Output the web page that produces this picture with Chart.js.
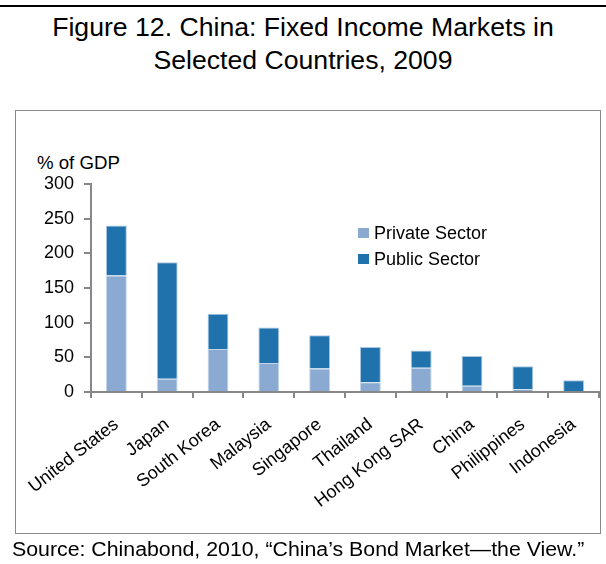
<!DOCTYPE html>
<html lang="en">

<head>
    <meta charset="UTF-8">
    <title>China: Fixed Income Markets in Selected Countries, 2009</title>
    <script src="https://cdn.jsdelivr.net/npm/chart.js"></script>
    <style>
        body {
            margin: 0;
            padding: 0;
            width: 606px;
            height: 564px;
            position: relative;
            background-color: #fff;
            font-family: "Liberation Sans", Arial, sans-serif;
            color: #000;
            overflow: hidden;
        }

        .rule {
            position: absolute;
            left: 0;
            top: 5px;
            width: 606px;
            height: 2px;
            background-color: #000;
        }

        /* the source figure is a little stretched sideways, hence scaleX */
        h1 {
            position: absolute;
            left: 0;
            top: 11px;
            width: 606px;
            margin: 0;
            font-size: 25px;
            font-weight: normal;
            line-height: 33px;
            text-align: center;
            transform: scaleX(1.065);
        }

        .frame {
            position: absolute;
            left: 15px;
            top: 110px;
            width: 584px;
            height: 422px;
            border: 1px solid #8a8a8a;
        }

        .unit {
            position: absolute;
            left: 37px;
            top: 155px;
            font-size: 17.5px;
            line-height: 17px;
            white-space: nowrap;
            transform: scaleX(1.065);
            transform-origin: left center;
        }

        .source {
            position: absolute;
            left: 12px;
            top: 539px;
            font-size: 20px;
            line-height: 20px;
            white-space: nowrap;
            transform: scaleX(1.065);
            transform-origin: left center;
        }

        canvas {
            position: absolute;
            left: 0;
            top: 0;
        }
    </style>
</head>

<body>
    <div class="rule"></div>
    <h1>Figure 12. China: Fixed Income Markets in<br>Selected Countries, 2009</h1>
    <div class="frame"></div>
    <div class="unit">% of GDP</div>
    <canvas id="bondChart" width="606" height="564"></canvas>
    <div class="source">Source: Chinabond, 2010, “China’s Bond Market—the View.”</div>

    <script>
        // values, % of GDP
        const countries = ['United States', 'Japan', 'South Korea', 'Malaysia', 'Singapore',
            'Thailand', 'Hong Kong SAR', 'China', 'Philippines', 'Indonesia'];
        const privateSector = [168, 19, 62, 42, 34, 14, 35, 9, 4, 1.5];
        const publicSector = [72, 168, 51, 51, 48, 51, 25, 43, 33, 15.5];
        const yTicks = [0, 50, 100, 150, 200, 250, 300];

        const axisGrey = '#878787';

        // legend sits inside the plot, like the Excel original
        const insideLegend = {
            id: 'insideLegend',
            afterDraw(chart) {
                const ctx = chart.ctx;
                const area = chart.chartArea;
                const x = area.left + 267;
                let y = area.top + 49;
                ctx.save();
                ctx.font = '18px "Liberation Sans", Arial, sans-serif';
                ctx.textBaseline = 'middle';
                chart.data.datasets.forEach(ds => {
                    ctx.fillStyle = ds.backgroundColor;
                    ctx.fillRect(x, y - 5, 11, 10);
                    ctx.fillStyle = '#000';
                    ctx.fillText(ds.label, x + 16, y + 1);
                    y += 26;
                });
                ctx.restore();
            }
        };

        Chart.defaults.font.family = '"Liberation Sans", Arial, sans-serif';
        Chart.defaults.color = '#000';

        const ctx = document.getElementById('bondChart').getContext('2d');
        new Chart(ctx, {
            type: 'bar',
            data: {
                labels: countries,
                datasets: [{
                    label: 'Private Sector',
                    data: privateSector,
                    backgroundColor: '#8aaad1',
                    borderColor: '#c3d5ea',
                    borderWidth: 1,
                    barPercentage: 0.41,
                    categoryPercentage: 1
                }, {
                    label: 'Public Sector',
                    data: publicSector,
                    backgroundColor: '#1f72ab',
                    borderColor: '#a9c5e2',
                    borderWidth: 1,
                    barPercentage: 0.41,
                    categoryPercentage: 1
                }]
            },
            options: {
                responsive: false,
                animation: false,
                devicePixelRatio: 1,
                layout: {
                    padding: { left: 0, top: 184, right: 7, bottom: 42 }
                },
                plugins: {
                    legend: { display: false },
                    title: { display: false },
                    tooltip: { enabled: false }
                },
                scales: {
                    x: {
                        stacked: true,
                        afterFit: scale => { scale.height = 130; },
                        border: { color: axisGrey, width: 2 },
                        grid: {
                            offset: true,
                            drawOnChartArea: false,
                            tickLength: 6,
                            color: axisGrey,
                            lineWidth: 2
                        },
                        ticks: {
                            autoSkip: false,
                            minRotation: 38,
                            maxRotation: 38,
                            padding: 16,
                            font: { size: 18 }
                        }
                    },
                    y: {
                        stacked: true,
                        min: 0,
                        max: 300,
                        afterFit: scale => { scale.width = 91; },
                        afterBuildTicks: scale => {
                            scale.ticks = yTicks.map(v => ({ value: v }));
                        },
                        border: { color: axisGrey, width: 2 },
                        grid: {
                            drawOnChartArea: false,
                            tickLength: 7,
                            color: axisGrey,
                            lineWidth: 2
                        },
                        ticks: {
                            padding: 10,
                            font: { size: 18 }
                        }
                    }
                }
            },
            plugins: [insideLegend]
        });
    </script>
</body>

</html>
